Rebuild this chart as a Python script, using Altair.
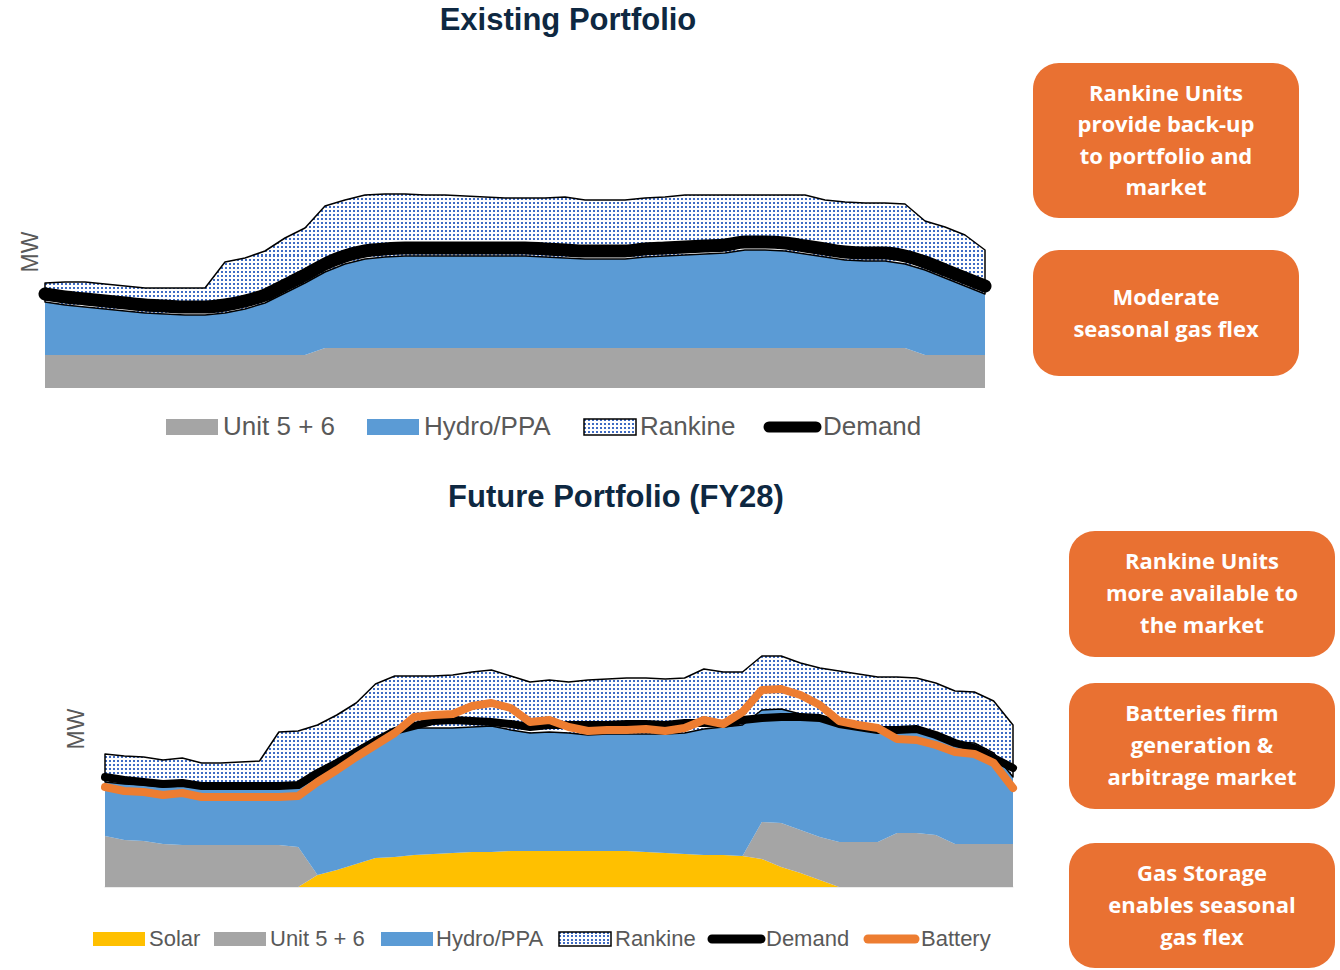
import altair as alt
import pandas as pd

# ---------------- data (MW; 48 weekly points) ----------------
WEEKS = list(range(48))

TOP_UNIT = [33, 33, 33, 33, 33, 33, 33, 33, 33, 33, 33, 33, 33, 33,
            40, 40, 40, 40, 40, 40, 40, 40, 40, 40, 40, 40, 40, 40, 40, 40,
            40, 40, 40, 40, 40, 40, 40, 40, 40, 40, 40, 40, 40, 40,
            33, 33, 33, 33]
TOP_HYDRO = [53, 50, 48, 46, 44, 42, 41, 40, 40, 42, 46, 52, 62, 72, 76, 84, 89, 91, 92, 92,
             92, 92, 92, 92, 92, 91, 90, 89, 89, 89, 91, 92, 93, 94, 95, 98, 98, 97, 94, 91,
             88, 87, 87, 84, 85, 77, 69, 61]
TOP_RANKINE = [19, 23, 25, 25, 25, 25, 26, 27, 27, 51, 51, 52, 55, 55, 66, 64, 64, 63, 62, 61,
               61, 60, 59, 58, 58, 59, 61, 59, 59, 59, 59, 59, 60, 59, 58, 55, 55, 56, 59, 57,
               58, 58, 58, 60, 49, 51, 51, 44]
TOP_DEMAND = [94, 91, 89, 87, 85, 83, 82, 81, 81, 83, 87, 93, 103, 113, 124, 132, 137, 139, 140, 140,
              140, 140, 140, 140, 140, 139, 138, 137, 137, 137, 139, 140, 141, 142, 143, 146, 146, 145, 142, 139,
              136, 135, 135, 132, 126, 118, 110, 102]

BOT_SOLAR = [0, 0, 0, 0, 0, 0, 0, 0, 0, 0, 0,
             12, 17, 23, 29, 30, 32, 33, 34, 35, 35,
             36, 36, 36, 36, 36, 36, 36, 35, 34, 33,
             32, 32, 31, 28, 20, 14, 7,
             0, 0, 0, 0, 0, 0, 0, 0, 0, 0]
BOT_UNIT = [51, 47, 46, 43, 42, 42, 42, 42, 42, 42, 40,
            0, 0, 0, 0, 0, 0, 0, 0, 0, 0, 0, 0, 0, 0, 0, 0, 0, 0, 0, 0, 0, 0, 0,
            37, 44, 43, 43, 45, 45, 45, 54, 54, 52, 43, 43, 43, 43]
BOT_HYDRO = [54, 56, 56, 57, 59, 57, 57, 57, 57, 57, 60,
             100, 105, 110, 115, 124, 127, 126, 125, 125, 126,
             121, 118, 119, 118, 116, 117, 117, 118, 119, 121,
             126, 128, 131, 112, 114, 116, 120, 117, 113, 110,
             102, 102, 101, 102, 101, 91, 67]
BOT_RANKINE = [28, 28, 28, 27, 28, 25, 25, 26, 27, 56,
               56, 50, 50, 51, 59, 57, 52, 52, 53, 55,
               56, 54, 51, 52, 51, 55, 55, 56, 56, 55,
               55, 60, 55, 53, 54, 53, 51, 49, 54, 55,
               55, 54, 53, 51, 51, 51, 52, 52]
BOT_DEMAND = [110, 107, 105, 103, 104, 101, 101, 101, 101, 101,
              102, 114, 124, 135, 146, 156, 161, 166, 167, 166,
              165, 163, 160, 162, 162, 162, 162, 163, 163, 162,
              164, 164, 163, 167, 169, 170, 170, 169, 163, 160,
              157, 157, 158, 152, 144, 139, 129, 119]
BOT_BATTERY = [100, 96, 95, 92, 94, 90, 90, 90, 90, 90,
               91, 105, 117, 130, 142, 154, 170, 172, 173, 181,
               184, 179, 165, 167, 160, 156, 157, 157, 158, 156,
               159, 167, 163, 175, 197, 198, 192, 182, 166, 162,
               159, 148, 147, 142, 135, 133, 124, 99]

TITLES = ["Existing Portfolio", "Future Portfolio (FY28)"]
TOP_LEGEND = ["Unit 5 + 6", "Hydro/PPA", "Rankine", "Demand"]
BOT_LEGEND = ["Solar", "Unit 5 + 6", "Hydro/PPA", "Rankine", "Demand", "Battery"]
TOP_BOXES = ["Rankine Units\nprovide back-up\nto portfolio and\nmarket",
             "Moderate\nseasonal gas flex"]
BOT_BOXES = ["Rankine Units\nmore available to\nthe market",
             "Batteries firm\ngeneration &\narbitrage market",
             "Gas Storage\nenables seasonal\ngas flex"]

# ---------------- styles ----------------
GRAY, BLUE, SOLAR, ORANGE, DOT = "#A5A5A5", "#5B9BD5", "#FFC000", "#ED7D31", "#3F6CC4"
BOX = "#E97132"
NAVY = "#0E2841"
TXT = "#595959"
LEG_FONT = "Liberation Sans Narrow, Arial Narrow, Liberation Sans, sans-serif"
BOX_FONT = "Open Sans, Lato, sans-serif"
TITLE_FONT = "Liberation Sans, Arial, sans-serif"


def stripes(n, on, off, vertical, duty=0.5):
    stops = []
    for k in range(n):
        a, b, c = k / n, (k + duty) / n, (k + 1) / n
        stops += [alt.GradientStop(color=on, offset=a), alt.GradientStop(color=on, offset=b),
                  alt.GradientStop(color=off, offset=b), alt.GradientStop(color=off, offset=c)]
    if vertical:
        return alt.LinearGradient(gradient="linear", stops=stops, x1=0, x2=0, y1=0, y2=1)
    return alt.LinearGradient(gradient="linear", stops=stops, x1=0, x2=1, y1=0, y2=0)


def one():
    return pd.DataFrame({"k": [0]})


def panel(df, xr, yr, ydom, series, lines):
    """series: list of (lo, hi, kind, color); lines: list of (col, color, width, interp)"""
    xsc = alt.Scale(domain=[0, 47], range=xr, nice=False, zero=False)
    ysc = alt.Scale(domain=ydom, range=yr, nice=False, zero=False)
    pxu = (yr[0] - yr[1]) / (ydom[1] - ydom[0])
    layers = []
    base = alt.Chart(df)
    for lo, hi, kind, color in series:
        enc = dict(x=alt.X("week:Q", scale=xsc, axis=None),
                   y=alt.Y(f"{hi}:Q", scale=ysc, axis=None),
                   y2=alt.Y2(f"{lo}:Q"))
        if kind == "pattern":
            nx = max(1, round((xr[1] - xr[0]) / 4))
            ny = max(1, round((df[hi].max() - df[lo].min()) * pxu / 4))
            layers.append(base.mark_area(fill=stripes(ny, DOT, "#ffffff", True), strokeWidth=0).encode(**enc))
            layers.append(base.mark_area(fill=stripes(nx, "rgba(255,255,255,0)", "#ffffff", False),
                                         stroke="black", strokeWidth=1.5, strokeJoin="round").encode(**enc))
        else:
            layers.append(base.mark_area(color=color, strokeWidth=0).encode(**enc))
    for col, color, width, interp in lines:
        layers.append(base.mark_line(color=color, strokeWidth=width, strokeCap="round",
                                     strokeJoin="round", interpolate=interp).encode(
            x=alt.X("week:Q", scale=xsc, axis=None),
            y=alt.Y(f"{col}:Q", scale=ysc, axis=None)))
    return layers


def text(s, x, y, size, color, font, weight="normal", align="center", angle=0, lh=None):
    kw = dict(fontSize=size, color=color, font=font, fontWeight=weight, align=align, baseline="middle")
    if angle:
        kw["angle"] = angle
    if lh:
        kw["lineHeight"] = lh
        kw["lineBreak"] = "\n"
    return alt.Chart(pd.DataFrame({"t": [s]})).mark_text(**kw).encode(
        x=alt.value(x), y=alt.value(y), text="t:N")


def box_text(s, x, yc, size, lh):
    n = s.count("\n") + 1
    return text(s, x, yc - (n - 1) * lh / 2, size, "white", BOX_FONT, "bold", lh=lh)


def rect(x0, x1, y0, y1, **mk):
    return alt.Chart(one()).mark_rect(**mk).encode(
        x=alt.value(x0), x2=alt.value(x1), y=alt.value(y0), y2=alt.value(y1))


def rule(x0, x1, y, color, width):
    return alt.Chart(one()).mark_rule(color=color, strokeWidth=width, strokeCap="round").encode(
        x=alt.value(x0), x2=alt.value(x1), y=alt.value(y))


def pattern_swatch(x0, x1, y0, y1):
    nx = max(1, round((x1 - x0) / 4))
    ny = max(1, round((y1 - y0) / 4))
    return [rect(x0, x1, y0, y1, fill=stripes(ny, DOT, "#ffffff", True)),
            rect(x0, x1, y0, y1, fill=stripes(nx, "rgba(255,255,255,0)", "#ffffff", False),
                 stroke="black", strokeWidth=1.5)]


# ---------------- tables ----------------
top = pd.DataFrame({"week": WEEKS, "unit": TOP_UNIT, "hydro": TOP_HYDRO,
                    "rankine": TOP_RANKINE, "demand": TOP_DEMAND})
top["zero"] = 0
top["u_top"] = top["unit"]
top["h_top"] = top["u_top"] + top["hydro"]
top["r_top"] = top["h_top"] + top["rankine"]

bot = pd.DataFrame({"week": WEEKS, "solar": BOT_SOLAR, "unit": BOT_UNIT, "hydro": BOT_HYDRO,
                    "rankine": BOT_RANKINE, "demand": BOT_DEMAND, "battery": BOT_BATTERY})
bot["zero"] = 0
bot["s_top"] = bot["solar"]
bot["u_top"] = bot["s_top"] + bot["unit"]
bot["h_top"] = bot["u_top"] + bot["hydro"]
bot["r_top"] = bot["h_top"] + bot["rankine"]

layers = []

# ---- top panel ----
layers += panel(top, [45, 985], [388, 188], [0, 200],
                [("zero", "u_top", "fill", GRAY), ("u_top", "h_top", "fill", BLUE),
                 ("h_top", "r_top", "pattern", None)],
                [("demand", "black", 13, "monotone")])
layers.append(text(TITLES[0], 568, 21, 31, NAVY, TITLE_FONT, "bold"))
layers.append(text("MW", 31, 252, 23, TXT, TITLE_FONT, angle=270))
# legend
ly = 427
layers.append(rect(166, 218, 419, 435, fill=GRAY))
layers.append(text(TOP_LEGEND[0], 223, ly, 26, TXT, LEG_FONT, align="left"))
layers.append(rect(367, 419, 419, 435, fill=BLUE))
layers.append(text(TOP_LEGEND[1], 424, ly, 26, TXT, LEG_FONT, align="left"))
layers += pattern_swatch(584, 636, 419, 435)
layers.append(text(TOP_LEGEND[2], 640, ly, 26, TXT, LEG_FONT, align="left"))
layers.append(rule(769, 816, ly, "black", 11))
layers.append(text(TOP_LEGEND[3], 823, ly, 26, TXT, LEG_FONT, align="left"))
# boxes
layers.append(rect(1033, 1299, 63, 218, fill=BOX, cornerRadius=26))
layers.append(box_text(TOP_BOXES[0], 1166, 141, 22, 31.5))
layers.append(rect(1033, 1299, 250, 376, fill=BOX, cornerRadius=26))
layers.append(box_text(TOP_BOXES[1], 1166, 314, 22, 31.5))

# ---- bottom panel ----
layers.append(rule(105, 1013, 887, "#D9D9D9", 1))
layers += panel(bot, [105, 1013], [887, 647], [0, 240],
                [("zero", "s_top", "fill", SOLAR), ("s_top", "u_top", "fill", GRAY),
                 ("u_top", "h_top", "fill", BLUE), ("h_top", "r_top", "pattern", None)],
                [("demand", "black", 8, "linear"), ("battery", ORANGE, 8, "linear")])
layers.append(text(TITLES[1], 616, 498, 31, NAVY, TITLE_FONT, "bold"))
layers.append(text("MW", 77, 729, 23, TXT, TITLE_FONT, angle=270))
by = 939
layers.append(rect(93, 145, 932, 946, fill=SOLAR))
layers.append(text(BOT_LEGEND[0], 149, by, 22, TXT, LEG_FONT, align="left"))
layers.append(rect(214, 266, 932, 946, fill=GRAY))
layers.append(text(BOT_LEGEND[1], 270, by, 22, TXT, LEG_FONT, align="left"))
layers.append(rect(381, 433, 932, 946, fill=BLUE))
layers.append(text(BOT_LEGEND[2], 436, by, 22, TXT, LEG_FONT, align="left"))
layers += pattern_swatch(559, 611, 932, 946)
layers.append(text(BOT_LEGEND[3], 615, by, 22, TXT, LEG_FONT, align="left"))
layers.append(rule(712, 761, by, "black", 9))
layers.append(text(BOT_LEGEND[4], 766, by, 22, TXT, LEG_FONT, align="left"))
layers.append(rule(868, 915, by, ORANGE, 9))
layers.append(text(BOT_LEGEND[5], 921, by, 22, TXT, LEG_FONT, align="left"))
for (y0, y1), s in zip([(531, 657), (683, 809), (843, 968)], BOT_BOXES):
    layers.append(rect(1069, 1335, y0, y1, fill=BOX, cornerRadius=26))
    layers.append(box_text(s, 1202, (y0 + y1) / 2, 22, 32))

chart = alt.layer(*layers).resolve_scale(x="independent", y="independent").properties(
    width=1340, height=970, autosize="none", padding=0, background="white"
).configure_view(stroke=None)

chart.save("out.html", embed_options={"renderer": "svg", "actions": False})
